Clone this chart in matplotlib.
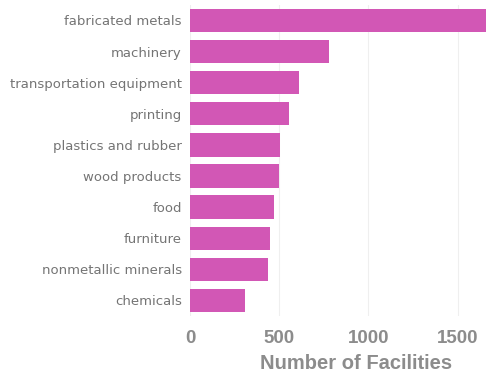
import matplotlib
matplotlib.use("Agg")
import matplotlib.pyplot as plt

industries = [
    "fabricated metals",
    "machinery",
    "transportation equipment",
    "printing",
    "plastics and rubber",
    "wood products",
    "food",
    "furniture",
    "nonmetallic minerals",
    "chemicals",
]
facilities = [1750, 779, 608, 554, 506, 498, 472, 446, 435, 306]
x_ticks = [0, 500, 1000, 1500]

bar_color = "#D257B5"
text_color = "#8c8c8c"

fig = plt.figure(figsize=(4.86, 3.77), dpi=100)
# the value axis runs on past the right edge of the canvas
ax = fig.add_axes([0.391, 0.162, 0.683, 0.825])

positions = list(range(len(industries)))[::-1]
ax.barh(positions, facilities, height=0.75, color=bar_color, zorder=3)

ax.set_xlim(0, 1860)
ax.set_ylim(-0.5, len(industries) - 0.5)
ax.set_yticks(positions)
ax.set_yticklabels(industries, fontsize=9.5, color="#747474",
                   family="DejaVu Sans")
ax.set_xticks(x_ticks)
ax.set_xticklabels([str(t) for t in x_ticks], fontsize=13.5, color=text_color,
                   fontweight="bold", family="Liberation Sans")
ax.set_xlabel("Number of Facilities", fontsize=14.5, color=text_color,
              fontweight="bold", family="Liberation Sans", labelpad=5)

ax.tick_params(axis="both", length=0)
ax.tick_params(axis="y", pad=6)
ax.tick_params(axis="x", pad=10)
ax.grid(axis="x", color="#efefef", linewidth=0.8, zorder=0)
for spine in ax.spines.values():
    spine.set_visible(False)

fig.savefig("out.png", dpi=100)
